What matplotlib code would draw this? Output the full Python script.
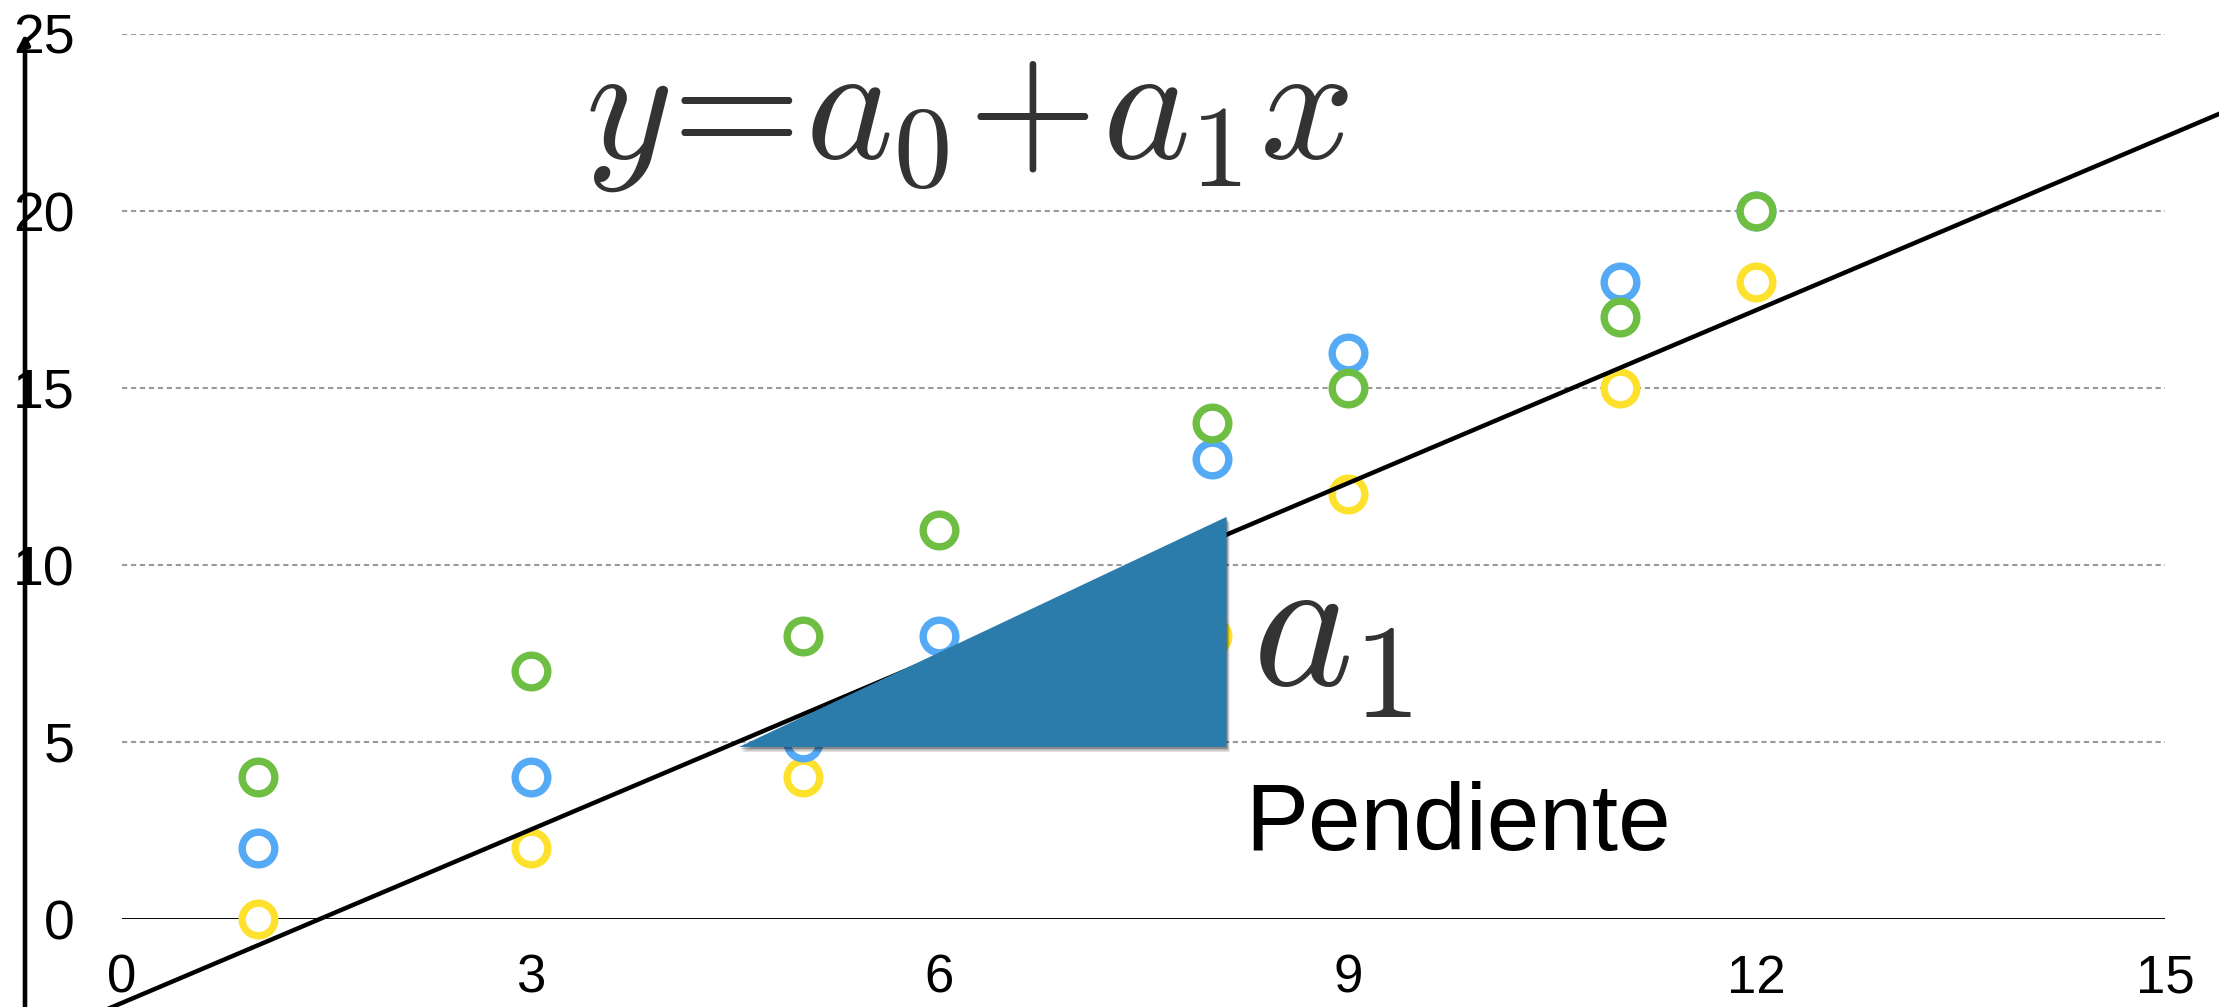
import numpy as np
import matplotlib
matplotlib.use("Agg")
import matplotlib.pyplot as plt
from matplotlib.patches import Polygon
from matplotlib import transforms

# ===== data =====
xs = [1, 3, 5, 6, 8, 9, 11, 12]
green = [4, 7, 8, 11, 14, 15, 17, 20]
blue = [2, 4, 5, 8, 13, 16, 18, 20]
yellow = [0, 2, 4, 6, 8, 12, 15, 18]

x_ticks = [0, 3, 6, 9, 12, 15]
y_ticks = [0, 5, 10, 15, 20, 25]

# recta ilustrativa y = a0 + a1 x
a0 = -2.37
a1 = 1.631

# triangulo de pendiente
tri_x = [4.53, 8.11, 8.11]
tri_y = [4.86, 11.36, 4.86]
# ================

C_GREEN = "#6fbe44"
C_BLUE = "#55aaf6"
C_YELLOW = "#fde12d"
C_TRI = "#2b7bab"
C_MATH = "#333333"

plt.rcParams["font.family"] = ["Liberation Sans", "DejaVu Sans"]
plt.rcParams["mathtext.fontset"] = "cm"

W, H = 2219, 1007
fig = plt.figure(figsize=(W / 100, H / 100), dpi=100)
ax = fig.add_axes([122 / W, 1 - 919 / H, (2165 - 122) / W, (919 - 34) / H])
ax.set_xlim(0, 15)
ax.set_ylim(0, 25)
for s in ax.spines.values():
    s.set_visible(False)

ax.set_xticks(x_ticks)
ax.set_yticks(y_ticks)
ax.tick_params(axis="both", length=0)
ax.tick_params(axis="x", pad=25, labelsize=38)
ax.tick_params(axis="y", pad=34, labelsize=40)

# lineas de cuadricula
for yv in y_ticks[1:]:
    ax.axhline(yv, color="#9a9a9a", lw=1.5, ls=(0, (2.5, 1.8)), zorder=1)
ax.axhline(0, color="black", lw=2.1, zorder=1)

# puntos
kw = dict(ls="none", marker="o", ms=23.5, mew=5.3, mfc="white", clip_on=False)
ax.plot(xs, yellow, mec=C_YELLOW, zorder=3, **kw)
ax.plot(xs, blue, mec=C_BLUE, zorder=3, **kw)
ax.plot(xs, green, mec=C_GREEN, zorder=3, **kw)

# recta
xl = np.array([-0.5, 16.5])
ax.plot(xl, a0 + a1 * xl, color="black", lw=3.2, zorder=4, clip_on=False)

# eje vertical con flecha
trans = transforms.blended_transform_factory(fig.transFigure, ax.transData)
ax.annotate("", xy=(25 / W, 25), xycoords=trans, xytext=(25 / W, -5), textcoords=trans,
            arrowprops=dict(arrowstyle="-|>,head_length=0.55,head_width=0.28",
                            lw=3.3, color="black", shrinkA=0, shrinkB=0),
            annotation_clip=False, zorder=2)

# triangulo con sombra
tri = list(zip(tri_x, tri_y))
for dx, dy, a in [(3, -5, 0.12), (2, -3.5, 0.18), (1, -2, 0.25)]:
    sh = Polygon(tri, closed=True, fc="black", ec="none", alpha=a, zorder=5,
                 transform=transforms.offset_copy(ax.transData, fig=fig, x=dx, y=dy, units="dots"))
    ax.add_patch(sh)
ax.add_patch(Polygon(tri, closed=True, fc=C_TRI, ec="none", zorder=6))

# textos
ax.text(3.4, 21.5, r"$y\!=\!a_0\!+\!a_1x$", fontsize=120, color=C_MATH,
        ha="left", va="baseline", zorder=7)
ax.text(8.3, 6.61, r"$a_1$", fontsize=138, color=C_MATH,
        ha="left", va="baseline", zorder=7)
ax.text(8.25, 1.95, "Pendiente", fontsize=68, color="black",
        ha="left", va="baseline", zorder=7)

fig.savefig("out.png", dpi=100)
